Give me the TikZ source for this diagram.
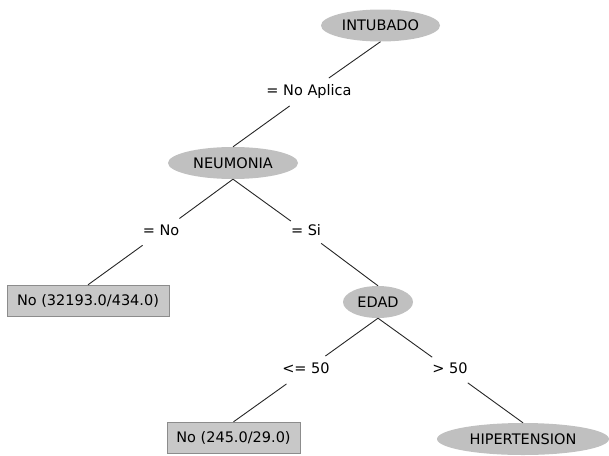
\documentclass[tikz,border=0pt]{standalone}
\usepackage{fontspec}
\setmainfont{DejaVu Sans}
\usepackage{tikz}
\usetikzlibrary{shapes.geometric}
\definecolor{splitgray}{RGB}{192,192,192}
\definecolor{leafgray}{RGB}{200,200,200}
\definecolor{leafedge}{RGB}{140,140,140}
\tikzset{
  every node/.style={font=\fontsize{14.5}{17}\selectfont},
  split/.style={ellipse,fill=splitgray,inner sep=0pt,minimum height=32pt},
  leaf/.style={rectangle,fill=leafgray,draw=leafedge,inner sep=0pt,minimum height=31pt},
  cond/.style={inner xsep=0pt,inner ysep=7pt,text height=10.5pt,text depth=3pt},
  branch/.style={draw=black!85,line width=0.9pt}
}

\begin{document}
\begin{tikzpicture}[x=1pt,y=-1pt]
\useasboundingbox (0,0) rectangle (609,455);
\node (intubado) at (380.5,25.5) [split,minimum width=119pt] {INTUBADO};
\node (neumonia) at (233,163) [split,minimum width=130pt] {NEUMONIA};
\node (edad) at (378,302) [split,minimum width=70pt] {EDAD};
\node (hiper) at (523,439) [split,minimum width=172pt] {HIPERTENSION};
\node (leafa) at (88,300.5) [leaf,minimum width=162pt] {No (32193.0/434.0)};
\node (leafb) at (233.5,437.5) [leaf,minimum width=133pt] {No (245.0/29.0)};
\node (noaplica) at (309,92) [cond] {= No Aplica};
\node (condno) at (161,232) [cond] {= No};
\node (condsi) at (306,232) [cond] {= Si};
\node (condle) at (306,370) [cond] {<= 50};
\node (condgt) at (450,370) [cond] {> 50};
\draw[branch] (intubado.south) -- (noaplica) -- (neumonia.north);
\draw[branch] (neumonia.south) -- (condno) -- (leafa.north);
\draw[branch] (neumonia.south) -- (condsi) -- (edad.north);
\draw[branch] (edad.south) -- (condle) -- (leafb.north);
\draw[branch] (edad.south) -- (condgt) -- (hiper.north);
\end{tikzpicture}
\end{document}
